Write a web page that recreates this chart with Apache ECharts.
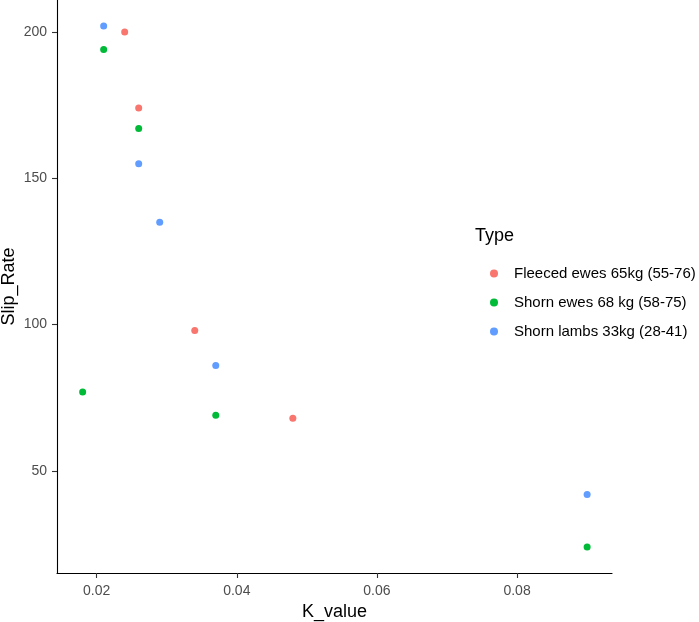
<!DOCTYPE html>
<html>
<head>
<meta charset="utf-8">
<script src="https://cdn.jsdelivr.net/npm/echarts@6/dist/echarts.min.js"></script>
<style>
  html, body { margin: 0; padding: 0; background: #fff; }
  #chart { width: 699px; height: 622px; }
</style>
</head>
<body>
<div id="chart"></div>
<script>
// data
var seriesNames = ['Fleeced ewes 65kg (55-76)', 'Shorn ewes 68 kg (58-75)', 'Shorn lambs 33kg (28-41)']
var fleecedK = [0.024, 0.026, 0.034, 0.048]
var fleecedSlip = [200, 174, 98, 68]
var shornEwesK = [0.021, 0.026, 0.018, 0.037, 0.090]
var shornEwesSlip = [194, 167, 77, 69, 24]
var lambsK = [0.021, 0.026, 0.029, 0.037, 0.090]
var lambsSlip = [202, 155, 135, 86, 42]
var xTicks = [0.02, 0.04, 0.06, 0.08]
var yTicks = [50, 100, 150, 200]
var colors = ['#F8766D', '#00BA38', '#619CFF']

function pairs(xs, ys){
  return xs.map(function(x, i){ return [x, ys[i]] })
}

var chart = echarts.init(document.getElementById('chart'))
var font = 'Liberation Sans, Arial, sans-serif'

var axisCommon = {
  splitLine: { show: false },
  axisLine: { lineStyle: { color: '#000', width: 1.1 } },
  axisTick: { length: 5, lineStyle: { color: '#333', width: 1.1 } },
  axisLabel: { color: '#4D4D4D', fontSize: 14, fontFamily: font, margin: 10 },
  nameTextStyle: { color: '#000', fontSize: 18, fontFamily: font },
  nameLocation: 'middle',
  nameMoveOverlap: false
}

chart.setOption({
  animation: false,
  color: colors,
  grid: { left: 57, right: 87, top: 0, bottom: 49, outerBoundsMode: 'none' },
  xAxis: Object.assign({}, axisCommon, {
    type: 'value',
    min: 0.01434,
    max: 0.09355,
    name: 'K_value',
    nameGap: 30,
    axisTick: Object.assign({}, axisCommon.axisTick, { customValues: xTicks }),
    axisLabel: Object.assign({}, axisCommon.axisLabel, {
      customValues: xTicks,
      margin: 11,
      formatter: function(v){ return v.toFixed(2) }
    })
  }),
  yAxis: Object.assign({}, axisCommon, {
    type: 'value',
    min: 15.15,
    max: 210.9,
    name: 'Slip_Rate',
    nameGap: 39,
    nameRotate: 90,
    axisTick: Object.assign({}, axisCommon.axisTick, { customValues: yTicks }),
    axisLabel: Object.assign({}, axisCommon.axisLabel, { customValues: yTicks })
  }),
  legend: {
    orient: 'vertical',
    left: 485,
    top: 261,
    icon: 'circle',
    itemWidth: 8,
    itemHeight: 8,
    itemGap: 14,
    data: seriesNames,
    textStyle: { color: '#000', fontSize: 15, fontFamily: font, padding: [0, 0, 0, 11] }
  },
  graphic: [{
    type: 'text',
    left: 475,
    top: 227,
    style: { text: 'Type', fontSize: 18, fontFamily: font, fill: '#000' }
  }],
  series: [
    { name: seriesNames[0], type: 'scatter', symbolSize: 7, itemStyle: { opacity: 1 }, data: pairs(fleecedK, fleecedSlip) },
    { name: seriesNames[1], type: 'scatter', symbolSize: 7, itemStyle: { opacity: 1 }, data: pairs(shornEwesK, shornEwesSlip) },
    { name: seriesNames[2], type: 'scatter', symbolSize: 7, itemStyle: { opacity: 1 }, data: pairs(lambsK, lambsSlip) }
  ]
})
</script>
</body>
</html>
